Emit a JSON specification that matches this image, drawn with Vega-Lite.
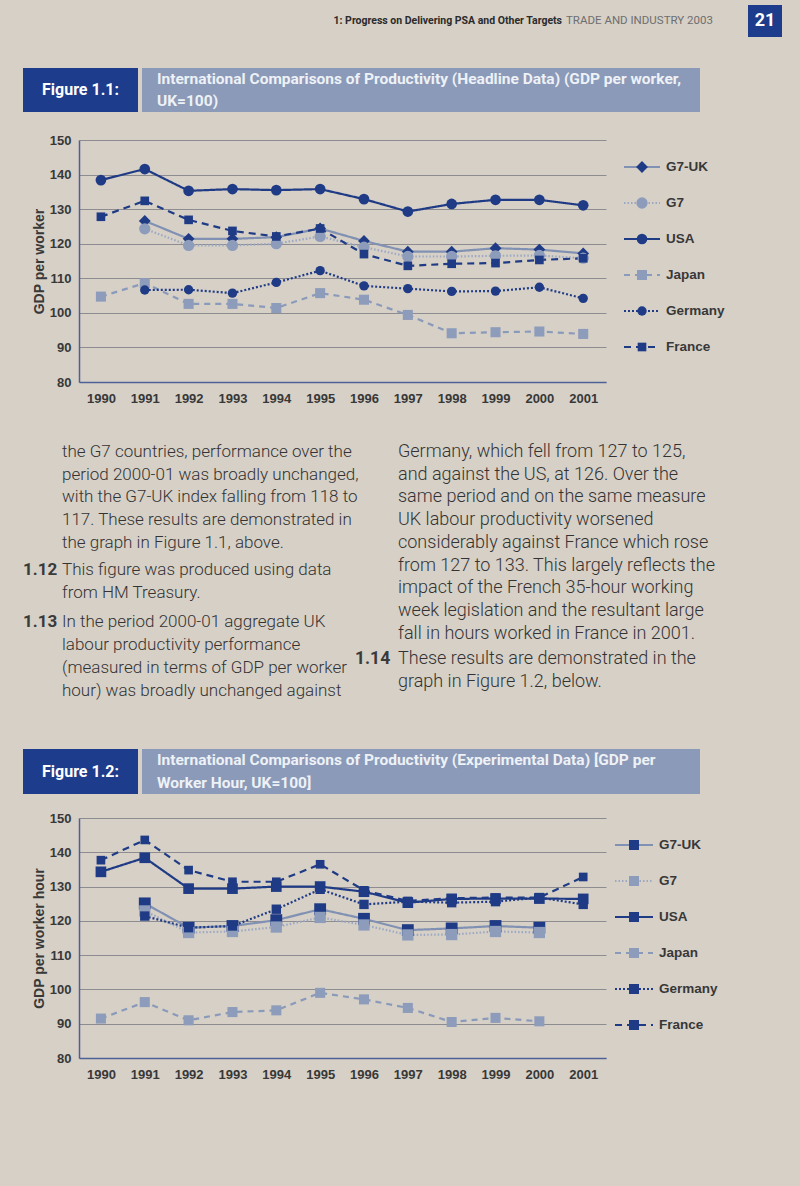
{
  "$schema": "https://vega.github.io/schema/vega-lite/v6.json",
  "background": "#d6d0c7",
  "autosize": {"type": "pad"},
  "padding": {"left": 23, "top": 5, "right": 18, "bottom": 106},
  "spacing": 0,
  "datasets": {
    "header": [
      {"part": "section", "text": "1: Progress on Delivering PSA and Other Targets"},
      {"part": "publication", "text": "TRADE AND INDUSTRY 2003"},
      {"part": "page", "text": "21"}
    ],
    "banners": [
      {"figure": "1.1", "part": "label", "line": 1, "text": "Figure 1.1:"},
      {"figure": "1.1", "part": "title", "line": 1, "text": "International Comparisons of Productivity (Headline Data) (GDP per worker,"},
      {"figure": "1.1", "part": "title", "line": 2, "text": "UK=100)"},
      {"figure": "1.2", "part": "label", "line": 1, "text": "Figure 1.2:"},
      {"figure": "1.2", "part": "title", "line": 1, "text": "International Comparisons of Productivity (Experimental Data) [GDP per"},
      {"figure": "1.2", "part": "title", "line": 2, "text": "Worker Hour, UK=100]"}
    ],
    "series": [
      {"series": "G7-UK"}, {"series": "G7"}, {"series": "USA"},
      {"series": "Japan"}, {"series": "Germany"}, {"series": "France"}
    ],
    "perWorker": [
      {"series": "G7-UK", "year": 1991, "value": 126.6}, {"series": "G7-UK", "year": 1992, "value": 121.4},
      {"series": "G7-UK", "year": 1993, "value": 121.4}, {"series": "G7-UK", "year": 1994, "value": 121.9},
      {"series": "G7-UK", "year": 1995, "value": 124.4}, {"series": "G7-UK", "year": 1996, "value": 120.8},
      {"series": "G7-UK", "year": 1997, "value": 117.7}, {"series": "G7-UK", "year": 1998, "value": 117.7},
      {"series": "G7-UK", "year": 1999, "value": 118.7}, {"series": "G7-UK", "year": 2000, "value": 118.3},
      {"series": "G7-UK", "year": 2001, "value": 117.2},
      {"series": "G7", "year": 1991, "value": 124.3}, {"series": "G7", "year": 1992, "value": 119.5},
      {"series": "G7", "year": 1993, "value": 119.5}, {"series": "G7", "year": 1994, "value": 120.0},
      {"series": "G7", "year": 1995, "value": 122.1}, {"series": "G7", "year": 1996, "value": 119.0},
      {"series": "G7", "year": 1997, "value": 116.3}, {"series": "G7", "year": 1998, "value": 116.3},
      {"series": "G7", "year": 1999, "value": 116.5}, {"series": "G7", "year": 2000, "value": 116.6},
      {"series": "G7", "year": 2001, "value": 115.8},
      {"series": "USA", "year": 1990, "value": 138.4}, {"series": "USA", "year": 1991, "value": 141.6},
      {"series": "USA", "year": 1992, "value": 135.3}, {"series": "USA", "year": 1993, "value": 135.8},
      {"series": "USA", "year": 1994, "value": 135.5}, {"series": "USA", "year": 1995, "value": 135.8},
      {"series": "USA", "year": 1996, "value": 132.9}, {"series": "USA", "year": 1997, "value": 129.3},
      {"series": "USA", "year": 1998, "value": 131.5}, {"series": "USA", "year": 1999, "value": 132.7},
      {"series": "USA", "year": 2000, "value": 132.7}, {"series": "USA", "year": 2001, "value": 131.1},
      {"series": "Japan", "year": 1990, "value": 104.7}, {"series": "Japan", "year": 1991, "value": 108.6},
      {"series": "Japan", "year": 1992, "value": 102.6}, {"series": "Japan", "year": 1993, "value": 102.6},
      {"series": "Japan", "year": 1994, "value": 101.4}, {"series": "Japan", "year": 1995, "value": 105.7},
      {"series": "Japan", "year": 1996, "value": 103.8}, {"series": "Japan", "year": 1997, "value": 99.4},
      {"series": "Japan", "year": 1998, "value": 94.1}, {"series": "Japan", "year": 1999, "value": 94.4},
      {"series": "Japan", "year": 2000, "value": 94.6}, {"series": "Japan", "year": 2001, "value": 93.9},
      {"series": "Germany", "year": 1991, "value": 106.6}, {"series": "Germany", "year": 1992, "value": 106.7},
      {"series": "Germany", "year": 1993, "value": 105.7}, {"series": "Germany", "year": 1994, "value": 108.8},
      {"series": "Germany", "year": 1995, "value": 112.2}, {"series": "Germany", "year": 1996, "value": 107.8},
      {"series": "Germany", "year": 1997, "value": 107.0}, {"series": "Germany", "year": 1998, "value": 106.2},
      {"series": "Germany", "year": 1999, "value": 106.3}, {"series": "Germany", "year": 2000, "value": 107.4},
      {"series": "Germany", "year": 2001, "value": 104.2},
      {"series": "France", "year": 1990, "value": 127.8}, {"series": "France", "year": 1991, "value": 132.4},
      {"series": "France", "year": 1992, "value": 126.9}, {"series": "France", "year": 1993, "value": 123.7},
      {"series": "France", "year": 1994, "value": 122.1}, {"series": "France", "year": 1995, "value": 124.4},
      {"series": "France", "year": 1996, "value": 117.0}, {"series": "France", "year": 1997, "value": 113.6},
      {"series": "France", "year": 1998, "value": 114.2}, {"series": "France", "year": 1999, "value": 114.4},
      {"series": "France", "year": 2000, "value": 115.3}, {"series": "France", "year": 2001, "value": 115.8}
    ],
    "perHour": [
      {"series": "G7-UK", "year": 1991, "value": 125.1}, {"series": "G7-UK", "year": 1992, "value": 118.0},
      {"series": "G7-UK", "year": 1993, "value": 118.5}, {"series": "G7-UK", "year": 1994, "value": 120.2},
      {"series": "G7-UK", "year": 1995, "value": 123.4}, {"series": "G7-UK", "year": 1996, "value": 120.6},
      {"series": "G7-UK", "year": 1997, "value": 117.3}, {"series": "G7-UK", "year": 1998, "value": 117.8},
      {"series": "G7-UK", "year": 1999, "value": 118.5}, {"series": "G7-UK", "year": 2000, "value": 118.0},
      {"series": "G7", "year": 1991, "value": 122.9}, {"series": "G7", "year": 1992, "value": 116.6},
      {"series": "G7", "year": 1993, "value": 116.9}, {"series": "G7", "year": 1994, "value": 118.2},
      {"series": "G7", "year": 1995, "value": 121.0}, {"series": "G7", "year": 1996, "value": 118.8},
      {"series": "G7", "year": 1997, "value": 115.9}, {"series": "G7", "year": 1998, "value": 116.0},
      {"series": "G7", "year": 1999, "value": 116.9}, {"series": "G7", "year": 2000, "value": 116.6},
      {"series": "USA", "year": 1990, "value": 134.3}, {"series": "USA", "year": 1991, "value": 138.4},
      {"series": "USA", "year": 1992, "value": 129.4}, {"series": "USA", "year": 1993, "value": 129.4},
      {"series": "USA", "year": 1994, "value": 130.0}, {"series": "USA", "year": 1995, "value": 130.0},
      {"series": "USA", "year": 1996, "value": 128.5}, {"series": "USA", "year": 1997, "value": 125.3},
      {"series": "USA", "year": 1998, "value": 126.4}, {"series": "USA", "year": 1999, "value": 126.5},
      {"series": "USA", "year": 2000, "value": 126.5}, {"series": "USA", "year": 2001, "value": 126.4},
      {"series": "Japan", "year": 1990, "value": 91.5}, {"series": "Japan", "year": 1991, "value": 96.3},
      {"series": "Japan", "year": 1992, "value": 91.0}, {"series": "Japan", "year": 1993, "value": 93.4},
      {"series": "Japan", "year": 1994, "value": 93.9}, {"series": "Japan", "year": 1995, "value": 99.0},
      {"series": "Japan", "year": 1996, "value": 97.1}, {"series": "Japan", "year": 1997, "value": 94.6},
      {"series": "Japan", "year": 1998, "value": 90.5}, {"series": "Japan", "year": 1999, "value": 91.7},
      {"series": "Japan", "year": 2000, "value": 90.7},
      {"series": "Germany", "year": 1991, "value": 121.4}, {"series": "Germany", "year": 1992, "value": 118.0},
      {"series": "Germany", "year": 1993, "value": 118.5}, {"series": "Germany", "year": 1994, "value": 123.4},
      {"series": "Germany", "year": 1995, "value": 129.2}, {"series": "Germany", "year": 1996, "value": 124.8},
      {"series": "Germany", "year": 1997, "value": 125.6}, {"series": "Germany", "year": 1998, "value": 125.3},
      {"series": "Germany", "year": 1999, "value": 125.6}, {"series": "Germany", "year": 2000, "value": 126.8},
      {"series": "Germany", "year": 2001, "value": 124.8},
      {"series": "France", "year": 1990, "value": 137.7}, {"series": "France", "year": 1991, "value": 143.6},
      {"series": "France", "year": 1992, "value": 134.8}, {"series": "France", "year": 1993, "value": 131.4},
      {"series": "France", "year": 1994, "value": 131.4}, {"series": "France", "year": 1995, "value": 136.5},
      {"series": "France", "year": 1996, "value": 128.9}, {"series": "France", "year": 1997, "value": 125.8},
      {"series": "France", "year": 1998, "value": 126.6}, {"series": "France", "year": 1999, "value": 126.8},
      {"series": "France", "year": 2000, "value": 126.8}, {"series": "France", "year": 2001, "value": 132.8}
    ],
    "body": [
      {"col": "L", "row": 0, "text": "the G7 countries, performance over the"},
      {"col": "L", "row": 1, "text": "period 2000-01 was broadly unchanged,"},
      {"col": "L", "row": 2, "text": "with the G7-UK index falling from 118 to"},
      {"col": "L", "row": 3, "text": "117. These results are demonstrated in"},
      {"col": "L", "row": 4, "text": "the graph in Figure 1.1, above."},
      {"col": "N1", "row": 5.2, "text": "1.12"},
      {"col": "L", "row": 5.2, "text": "This figure was produced using data"},
      {"col": "L", "row": 6.2, "text": "from HM Treasury."},
      {"col": "N1", "row": 7.5, "text": "1.13"},
      {"col": "L", "row": 7.5, "text": "In the period 2000-01 aggregate UK"},
      {"col": "L", "row": 8.5, "text": "labour productivity performance"},
      {"col": "L", "row": 9.5, "text": "(measured in terms of GDP per worker"},
      {"col": "L", "row": 10.5, "text": "hour) was broadly unchanged against"},
      {"col": "R", "row": 0, "text": "Germany, which fell from 127 to 125,"},
      {"col": "R", "row": 1, "text": "and against the US, at 126. Over the"},
      {"col": "R", "row": 2, "text": "same period and on the same measure"},
      {"col": "R", "row": 3, "text": "UK labour productivity worsened"},
      {"col": "R", "row": 4, "text": "considerably against France which rose"},
      {"col": "R", "row": 5, "text": "from 127 to 133. This largely reflects the"},
      {"col": "R", "row": 6, "text": "impact of the French 35-hour working"},
      {"col": "R", "row": 7, "text": "week legislation and the resultant large"},
      {"col": "R", "row": 8, "text": "fall in hours worked in France in 2001."},
      {"col": "N2", "row": 9.1, "text": "1.14"},
      {"col": "R", "row": 9.1, "text": "These results are demonstrated in the"},
      {"col": "R", "row": 10.1, "text": "graph in Figure 1.2, below."}
    ]
  },
  "config": {
    "view": {"stroke": null},
    "axis": {
      "labelFont": "Liberation Sans", "labelFontWeight": "bold", "labelFontSize": 13, "labelColor": "#383838",
      "domainColor": "#4f5f98", "domainWidth": 1.5, "gridColor": "#8d8d91", "gridWidth": 1.2, "ticks": false,
      "titleFont": "Liberation Sans", "titleFontWeight": "bold", "titleFontSize": 14, "titleColor": "#383838"
    }
  },
  "vconcat": [
    {
      "hconcat": [
        {
          "width": 539, "height": 32,
          "data": {"name": "header"}, "transform": [{"filter": "datum.part === 'section'"}],
          "mark": {"type": "text", "align": "right", "baseline": "middle", "font": "Roboto", "fontWeight": "bold", "fontSize": 10.5, "color": "#2b2b2b"},
          "encoding": {"x": {"datum": 1, "type": "quantitative", "scale": {"domain": [0, 1]}, "axis": null}, "text": {"field": "text"}}
        },
        {
          "width": 186, "height": 32,
          "data": {"name": "header"}, "transform": [{"filter": "datum.part === 'publication'"}],
          "mark": {"type": "text", "align": "left", "baseline": "middle", "dx": 4, "font": "Roboto", "fontSize": 11.5, "color": "#6e6e6e"},
          "encoding": {"x": {"datum": 0, "type": "quantitative", "scale": {"domain": [0, 1]}, "axis": null}, "text": {"field": "text"}}
        },
        {
          "width": 34, "height": 32, "view": {"fill": "#1d3c8b", "stroke": null},
          "data": {"name": "header"}, "transform": [{"filter": "datum.part === 'page'"}],
          "mark": {"type": "text", "align": "center", "baseline": "middle", "font": "Roboto", "fontWeight": "bold", "fontSize": 18, "color": "#ffffff"},
          "encoding": {"text": {"field": "text"}}
        }
      ],
      "spacing": 0, "bounds": "flush"
    },
    {"width": 1, "height": 31, "data": {"values": []}, "mark": "point"},
    {
      "hconcat": [
        {
          "width": 115, "height": 44, "view": {"fill": "#1d3c8b", "stroke": null},
          "data": {"name": "banners"}, "transform": [{"filter": "datum.figure === '1.1' && datum.part === 'label'"}],
          "mark": {"type": "text", "align": "center", "baseline": "middle", "font": "Roboto", "fontWeight": "bold", "fontSize": 16, "color": "#ffffff"},
          "encoding": {"text": {"field": "text"}}
        },
        {
          "width": 558, "height": 44, "view": {"fill": "#8a9ab8", "stroke": null},
          "data": {"name": "banners"}, "transform": [{"filter": "datum.figure === '1.1' && datum.part === 'title'"}],
          "mark": {"type": "text", "align": "left", "baseline": "middle", "dx": 15, "font": "Roboto", "fontWeight": "bold", "fontSize": 15.5, "color": "#eef1f6"},
          "encoding": {
            "x": {"datum": 0, "type": "quantitative", "scale": {"domain": [0, 1]}, "axis": null},
            "y": {"field": "line", "type": "ordinal", "axis": null},
            "text": {"field": "text"}
          }
        }
      ],
      "spacing": 4, "bounds": "flush"
    },
    {"width": 1, "height": 22, "data": {"values": []}, "mark": "point"},
    {
      "hconcat": [
        {"width": 38, "height": 242, "data": {"values": []}, "mark": "point"},
        {
          "width": 527, "height": 242,
          "data": {"name": "perWorker"},
          "encoding": {
            "x": {"field": "year", "type": "quantitative", "scale": {"domain": [1989.5, 2001.52], "nice": false, "zero": false},
                  "axis": {"values": [1990, 1991, 1992, 1993, 1994, 1995, 1996, 1997, 1998, 1999, 2000, 2001], "format": "d", "grid": false, "labelPadding": 10, "title": null}},
            "y": {"field": "value", "type": "quantitative", "scale": {"domain": [80, 150], "nice": false, "zero": false},
                  "axis": {"values": [80, 90, 100, 110, 120, 130, 140, 150], "grid": true, "labelPadding": 8, "title": "GDP per worker", "titlePadding": 3}}
          },
          "layer": [
            {
              "mark": {"type": "line", "strokeWidth": 2.2},
              "encoding": {
                "stroke": {"field": "series", "type": "nominal", "legend": null,
                  "scale": {"domain": ["G7-UK", "G7", "USA", "Japan", "Germany", "France"], "range": ["#8191b3", "#9ba8c3", "#1f3b85", "#8a9aba", "#1f3b85", "#1f3b85"]}},
                "strokeDash": {"field": "series", "type": "nominal", "legend": null,
                  "scale": {"domain": ["G7-UK", "G7", "USA", "Japan", "Germany", "France"], "range": [[1, 0], [1.5, 2], [1, 0], [6, 5], [2, 2], [7, 5]]}}
              }
            },
            {
              "mark": {"type": "point", "filled": true, "opacity": 1},
              "encoding": {
                "fill": {"field": "series", "type": "nominal", "legend": null,
                  "scale": {"domain": ["G7-UK", "G7", "USA", "Japan", "Germany", "France"], "range": ["#1f3b85", "#8d9cba", "#1f3b85", "#8d9cba", "#1f3b85", "#1f3b85"]}},
                "shape": {"field": "series", "type": "nominal", "legend": null,
                  "scale": {"domain": ["G7-UK", "G7", "USA", "Japan", "Germany", "France"], "range": ["diamond", "circle", "circle", "square", "circle", "square"]}},
                "size": {"field": "series", "type": "nominal", "legend": null,
                  "scale": {"domain": ["G7-UK", "G7", "USA", "Japan", "Germany", "France"], "range": [140, 75, 80, 85, 80, 90]}}
              }
            }
          ]
        },
        {
          "width": 36, "height": 234,
          "data": {"name": "series"},
          "encoding": {"y": {"field": "series", "type": "nominal", "axis": null, "scale": {"type": "point", "domain": ["G7-UK", "G7", "USA", "Japan", "Germany", "France"], "padding": 0.75}}},
          "layer": [
            {
              "mark": {"type": "rule", "strokeWidth": 2},
              "encoding": {
                "x": {"datum": 0, "type": "quantitative", "scale": {"domain": [0, 1]}, "axis": null},
                "x2": {"datum": 1},
                "stroke": {"field": "series", "type": "nominal", "legend": null,
                  "scale": {"domain": ["G7-UK", "G7", "USA", "Japan", "Germany", "France"], "range": ["#8191b3", "#9ba8c3", "#1f3b85", "#8a9aba", "#1f3b85", "#1f3b85"]}},
                "strokeDash": {"field": "series", "type": "nominal", "legend": null,
                  "scale": {"domain": ["G7-UK", "G7", "USA", "Japan", "Germany", "France"], "range": [[1, 0], [1.5, 2], [1, 0], [4, 4], [2, 2], [4, 4]]}}
              }
            },
            {
              "mark": {"type": "point", "filled": true, "opacity": 1},
              "encoding": {
                "x": {"datum": 0.5, "type": "quantitative"},
                "fill": {"field": "series", "type": "nominal", "legend": null,
                  "scale": {"domain": ["G7-UK", "G7", "USA", "Japan", "Germany", "France"], "range": ["#1f3b85", "#8d9cba", "#1f3b85", "#8d9cba", "#1f3b85", "#1f3b85"]}},
                "shape": {"field": "series", "type": "nominal", "legend": null,
                  "scale": {"domain": ["G7-UK", "G7", "USA", "Japan", "Germany", "France"], "range": ["diamond", "circle", "circle", "square", "circle", "square"]}},
                "size": {"field": "series", "type": "nominal", "legend": null,
                  "scale": {"domain": ["G7-UK", "G7", "USA", "Japan", "Germany", "France"], "range": [140, 75, 80, 85, 80, 90]}}
              }
            },
            {
              "mark": {"type": "text", "align": "left", "baseline": "middle", "dx": 6, "font": "Liberation Sans", "fontWeight": "bold", "fontSize": 13.5, "color": "#383838"},
              "encoding": {"x": {"datum": 1, "type": "quantitative"}, "text": {"field": "series"}}
            }
          ]
        }
      ],
      "spacing": 18, "bounds": "flush"
    },
    {"width": 1, "height": 38, "data": {"values": []}, "mark": "point"},
    {
      "hconcat": [
        {
          "width": 39, "height": 250, "data": {"name": "body"}, "transform": [{"filter": "datum.col === 'N1'"}],
          "mark": {"type": "text", "align": "left", "baseline": "middle", "font": "Roboto", "fontWeight": "bold", "fontSize": 17, "color": "#3a3a3a"},
          "encoding": {
            "x": {"datum": 0, "type": "quantitative", "scale": {"domain": [0, 1]}, "axis": null},
            "y": {"field": "row", "type": "quantitative", "scale": {"domain": [0, 11], "reverse": true}, "axis": null},
            "text": {"field": "text"}
          }
        },
        {
          "width": 293, "height": 250, "data": {"name": "body"}, "transform": [{"filter": "datum.col === 'L'"}],
          "mark": {"type": "text", "align": "left", "baseline": "middle", "font": "Roboto", "fontWeight": 300, "fontSize": 17, "color": "#333333"},
          "encoding": {
            "x": {"datum": 0, "type": "quantitative", "scale": {"domain": [0, 1]}, "axis": null},
            "y": {"field": "row", "type": "quantitative", "scale": {"domain": [0, 11], "reverse": true}, "axis": null},
            "text": {"field": "text"}
          }
        },
        {
          "width": 43, "height": 250, "data": {"name": "body"}, "transform": [{"filter": "datum.col === 'N2'"}],
          "mark": {"type": "text", "align": "left", "baseline": "middle", "font": "Roboto", "fontWeight": "bold", "fontSize": 17.5, "color": "#3a3a3a"},
          "encoding": {
            "x": {"datum": 0, "type": "quantitative", "scale": {"domain": [0, 1]}, "axis": null},
            "y": {"field": "row", "type": "quantitative", "scale": {"domain": [0, 11], "reverse": true}, "axis": null},
            "text": {"field": "text"}
          }
        },
        {
          "width": 370, "height": 250, "data": {"name": "body"}, "transform": [{"filter": "datum.col === 'R'"}],
          "mark": {"type": "text", "align": "left", "baseline": "middle", "font": "Roboto", "fontWeight": 300, "fontSize": 18, "color": "#333333"},
          "encoding": {
            "x": {"datum": 0, "type": "quantitative", "scale": {"domain": [0, 1]}, "axis": null},
            "y": {"field": "row", "type": "quantitative", "scale": {"domain": [0, 11], "reverse": true}, "axis": null},
            "text": {"field": "text"}
          }
        }
      ],
      "spacing": 0, "bounds": "flush"
    },
    {"width": 1, "height": 47, "data": {"values": []}, "mark": "point"},
    {
      "hconcat": [
        {
          "width": 115, "height": 45, "view": {"fill": "#1d3c8b", "stroke": null},
          "data": {"name": "banners"}, "transform": [{"filter": "datum.figure === '1.2' && datum.part === 'label'"}],
          "mark": {"type": "text", "align": "center", "baseline": "middle", "font": "Roboto", "fontWeight": "bold", "fontSize": 16, "color": "#ffffff"},
          "encoding": {"text": {"field": "text"}}
        },
        {
          "width": 558, "height": 45, "view": {"fill": "#8a9ab8", "stroke": null},
          "data": {"name": "banners"}, "transform": [{"filter": "datum.figure === '1.2' && datum.part === 'title'"}],
          "mark": {"type": "text", "align": "left", "baseline": "middle", "dx": 15, "font": "Roboto", "fontWeight": "bold", "fontSize": 15.5, "color": "#eef1f6"},
          "encoding": {
            "x": {"datum": 0, "type": "quantitative", "scale": {"domain": [0, 1]}, "axis": null},
            "y": {"field": "line", "type": "ordinal", "axis": null},
            "text": {"field": "text"}
          }
        }
      ],
      "spacing": 4, "bounds": "flush"
    },
    {"width": 1, "height": 18, "data": {"values": []}, "mark": "point"},
    {
      "hconcat": [
        {"width": 47, "height": 240, "data": {"values": []}, "mark": "point"},
        {
          "width": 527, "height": 240,
          "data": {"name": "perHour"},
          "encoding": {
            "x": {"field": "year", "type": "quantitative", "scale": {"domain": [1989.5, 2001.52], "nice": false, "zero": false},
                  "axis": {"values": [1990, 1991, 1992, 1993, 1994, 1995, 1996, 1997, 1998, 1999, 2000, 2001], "format": "d", "grid": false, "labelPadding": 10, "title": null}},
            "y": {"field": "value", "type": "quantitative", "scale": {"domain": [80, 150], "nice": false, "zero": false},
                  "axis": {"values": [80, 90, 100, 110, 120, 130, 140, 150], "grid": true, "labelPadding": 8, "title": "GDP per worker hour", "titlePadding": 3}}
          },
          "layer": [
            {
              "mark": {"type": "line", "strokeWidth": 2.2},
              "encoding": {
                "stroke": {"field": "series", "type": "nominal", "legend": null,
                  "scale": {"domain": ["G7-UK", "G7", "USA", "Japan", "Germany", "France"], "range": ["#8191b3", "#9ba8c3", "#1f3b85", "#8a9aba", "#1f3b85", "#1f3b85"]}},
                "strokeDash": {"field": "series", "type": "nominal", "legend": null,
                  "scale": {"domain": ["G7-UK", "G7", "USA", "Japan", "Germany", "France"], "range": [[1, 0], [1.5, 2], [1, 0], [6, 5], [2, 2], [7, 5]]}}
              }
            },
            {
              "mark": {"type": "point", "filled": true, "opacity": 1, "shape": "square"},
              "encoding": {
                "fill": {"field": "series", "type": "nominal", "legend": null,
                  "scale": {"domain": ["G7-UK", "G7", "USA", "Japan", "Germany", "France"], "range": ["#1f3b85", "#8d9cba", "#1f3b85", "#8d9cba", "#1f3b85", "#1f3b85"]}},
                "size": {"field": "series", "type": "nominal", "legend": null,
                  "scale": {"domain": ["G7-UK", "G7", "USA", "Japan", "Germany", "France"], "range": [100, 90, 100, 90, 90, 100]}}
              }
            }
          ]
        },
        {
          "width": 38, "height": 234,
          "data": {"name": "series"},
          "encoding": {"y": {"field": "series", "type": "nominal", "axis": null, "scale": {"type": "point", "domain": ["G7-UK", "G7", "USA", "Japan", "Germany", "France"], "padding": 0.75}}},
          "layer": [
            {
              "mark": {"type": "rule", "strokeWidth": 2},
              "encoding": {
                "x": {"datum": 0, "type": "quantitative", "scale": {"domain": [0, 1]}, "axis": null},
                "x2": {"datum": 1},
                "stroke": {"field": "series", "type": "nominal", "legend": null,
                  "scale": {"domain": ["G7-UK", "G7", "USA", "Japan", "Germany", "France"], "range": ["#8191b3", "#9ba8c3", "#1f3b85", "#8a9aba", "#1f3b85", "#1f3b85"]}},
                "strokeDash": {"field": "series", "type": "nominal", "legend": null,
                  "scale": {"domain": ["G7-UK", "G7", "USA", "Japan", "Germany", "France"], "range": [[1, 0], [1.5, 2], [1, 0], [4, 4], [2, 2], [4, 4]]}}
              }
            },
            {
              "mark": {"type": "point", "filled": true, "opacity": 1, "shape": "square", "size": 100},
              "encoding": {
                "x": {"datum": 0.5, "type": "quantitative"},
                "fill": {"field": "series", "type": "nominal", "legend": null,
                  "scale": {"domain": ["G7-UK", "G7", "USA", "Japan", "Germany", "France"], "range": ["#1f3b85", "#8d9cba", "#1f3b85", "#8d9cba", "#1f3b85", "#1f3b85"]}}
              }
            },
            {
              "mark": {"type": "text", "align": "left", "baseline": "middle", "dx": 6, "font": "Liberation Sans", "fontWeight": "bold", "fontSize": 13.5, "color": "#383838"},
              "encoding": {"x": {"datum": 1, "type": "quantitative"}, "text": {"field": "series"}}
            }
          ]
        }
      ],
      "spacing": 9, "bounds": "flush"
    }
  ]
}
